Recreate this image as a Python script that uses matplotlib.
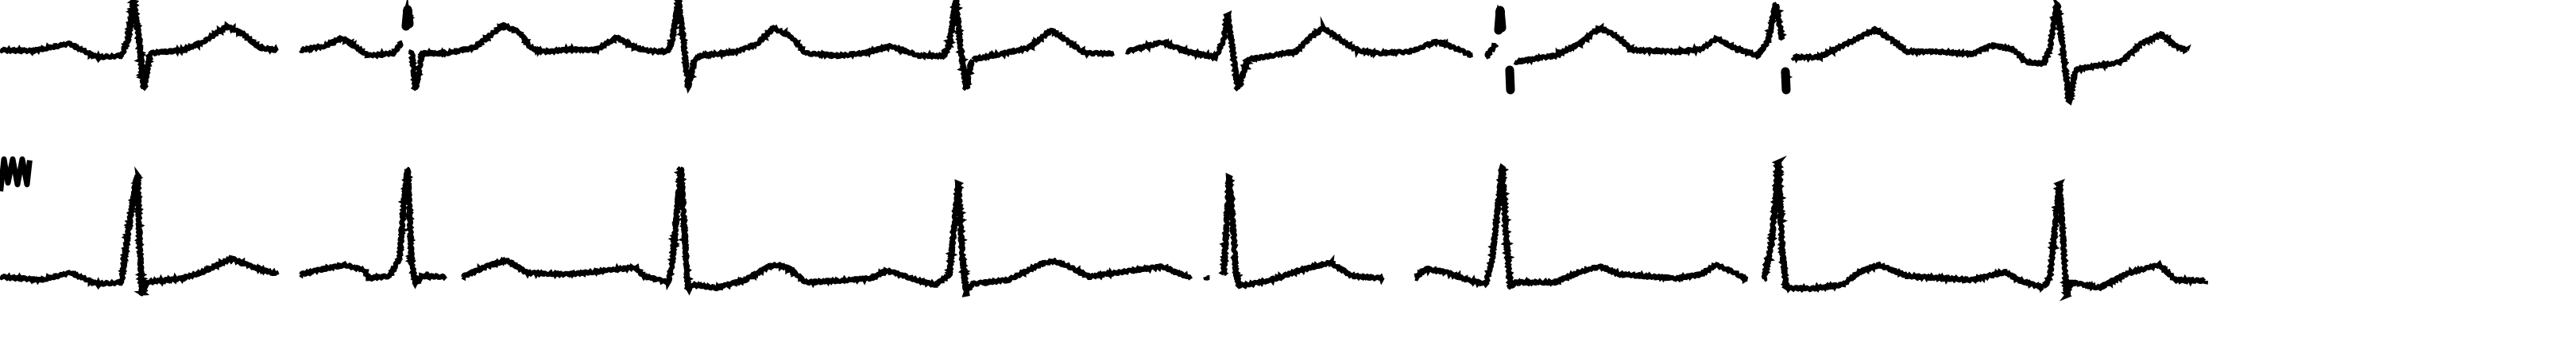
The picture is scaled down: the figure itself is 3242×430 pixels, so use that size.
import numpy as np
import matplotlib
matplotlib.use("Agg")
import matplotlib.pyplot as plt

# --- 読み取った波形データ（スキャン列, スキャン行）。None は途切れ ---
top_t = [0, 40, 87, 122, 153, 161, 168, 174, 181, 189, 230, 255, 286, 306, 327, 349, None,
         378, 408, 431, 464, 495, 506, None, 511, 513, 515, None,
         518, 523, 531, 561, 597, 633, 653, 668, 684, 724, 750, 776, 800, 815, 841,
         846, 854, 860, 866, 874, 882, 928, 953, 973, 994, 1014, 1055, 1086, 1121, 1157,
         1188, 1195, 1203, 1209, 1216, 1223, 1259, 1295, 1323, 1341, 1366, 1402, None,
         1417, 1463, 1494, 1530, 1540, 1545, 1551, 1558, 1570, 1600, 1631, 1651, 1666,
         1687, 1707, 1733, 1773, 1809, 1835, 1853, None,
         1870, 1883, None, 1886, 1888, 1890, None, 1900, 1901, None,
         1906, 1957, 1988, 2013, 2034, 2054, 2110, 2141, 2161, 2182, 2212, 2225, 2235, 2243, None,
         2247, 2248, None,
         2256, 2289, 2324, 2360, 2381, 2400, 2440, 2481, 2507, 2534, 2550, 2572, 2580,
         2589, 2596, 2604, 2612, 2642, 2669, 2695, 2720, 2738, 2752]
top_v = [63, 64, 55, 72, 70, 50, 1, 40, 112, 67, 63, 53, 33, 43, 60, 63, None,
         63, 58, 48, 70, 67, 53, None, 33, 12, 30, None,
         63, 112, 67, 67, 60, 32, 40, 60, 65, 62, 63, 47, 60, 64, 65,
         50, 1, 50, 110, 75, 70, 65, 55, 35, 45, 67, 70, 67, 58, 70,
         70, 55, 0, 60, 112, 75, 68, 60, 38, 50, 67, 67, None,
         65, 53, 65, 72, 50, 18, 60, 113, 75, 70, 65, 45, 35,
         50, 63, 67, 65, 52, 62, 70, None,
         72, 55, None, 38, 13, 35, None, 88, 113, None,
         78, 70, 55, 35, 45, 63, 65, 62, 48, 60, 70, 52, 5, 50, None,
         90, 113, None,
         72, 72, 55, 37, 50, 65, 65, 68, 57, 62, 78, 80, 60,
         5, 60, 128, 88, 82, 78, 55, 43, 58, 63]

bot_t = [0, 51, 89, 122, 153, 158, 166, 173, 176, 179, 184, 230, 255, 291, 316, 349, None,
         378, 408, 434, 459, 464, 490, 503, 508, 513, 516, 518, 523, 531, 561, None,
         582, 612, 638, 663, 714, 765, 800, 810, 841, 846, 857, 862, 866, 871, 902, 938,
         968, 979, 994, 1014, 1055, 1096, 1116, 1157, 1178, 1195, 1206, 1211, 1216, 1223,
         1269, 1310, 1326, 1341, 1371, 1412, 1463, 1499, None, 1517, 1522, None,
         1540, 1547, 1553, 1555, 1560, 1600, 1636, 1674, 1702, 1740, None,
         1781, 1794, 1819, 1850, 1870, 1878, 1884, 1891, 1895, 1901, 1906, 1957, 1988,
         2013, 2039, 2110, 2141, 2159, 2182, 2199, None,
         2220, 2230, 2238, 2243, 2248, 2279, 2319, 2340, 2365, 2400, 2481, 2524, 2540,
         2572, 2580, 2592, 2601, 2607, 2642, 2679, 2718, 2738, 2776]
bot_v = [348, 352, 343, 357, 355, 315, 260, 220, 315, 370, 355, 350, 342, 325, 335, 345, None,
         345, 338, 333, 340, 350, 347, 325, 260, 212, 280, 330, 357, 347, 348, None,
         348, 335, 327, 343, 345, 340, 336, 347, 355, 332, 211, 300, 365, 358, 362, 352,
         335, 333, 338, 355, 353, 350, 340, 353, 358, 345, 230, 320, 370, 357,
         352, 332, 328, 333, 348, 342, 335, 350, None, 348, 350, None,
         345, 222, 300, 342, 360, 352, 340, 330, 347, 350, None,
         350, 338, 342, 353, 357, 325, 270, 210, 290, 362, 355, 355, 342,
         335, 345, 350, 345, 333, 342, 352, None,
         352, 303, 203, 315, 362, 363, 358, 342, 333, 347, 352, 342, 352,
         362, 348, 230, 372, 355, 362, 343, 333, 352, 353]

# 上段の途切れた QRS の太い塊
blob_t = [511, 513, 515, None, 1900, 1901, None, 1886, 1888, 1890, None, 2247, 2248]
blob_v = [33, 12, 30, None, 88, 113, None, 38, 13, 35, None, 90, 113]

# 左端の較正マーク
cal_t = [1, 5, 10, 16, 22, 28, 34, 37]
cal_v = [237, 200, 230, 200, 232, 200, 232, 205]


def to_array(vals):
    return np.array([np.nan if v is None else v for v in vals], dtype=float)


fig = plt.figure(figsize=(32.42, 4.30), dpi=100)
ax = fig.add_axes([0, 0, 1, 1])
ax.set_xlim(0, 3242)
ax.set_ylim(430, 0)
ax.axis('off')

style = dict(color='black', linewidth=4.2, solid_joinstyle='miter', solid_capstyle='butt')
for t, v in [(top_t, top_v), (bot_t, bot_v)]:
    line, = ax.plot(to_array(t), to_array(v), **style)
    line.set_sketch_params(scale=1.3, length=6, randomness=3)

ax.plot(to_array(blob_t), to_array(blob_v), color='black', linewidth=8,
        solid_capstyle='round')
ax.plot(cal_t, cal_v, color='black', linewidth=5)

fig.savefig('out.png', dpi=100, facecolor='white')
